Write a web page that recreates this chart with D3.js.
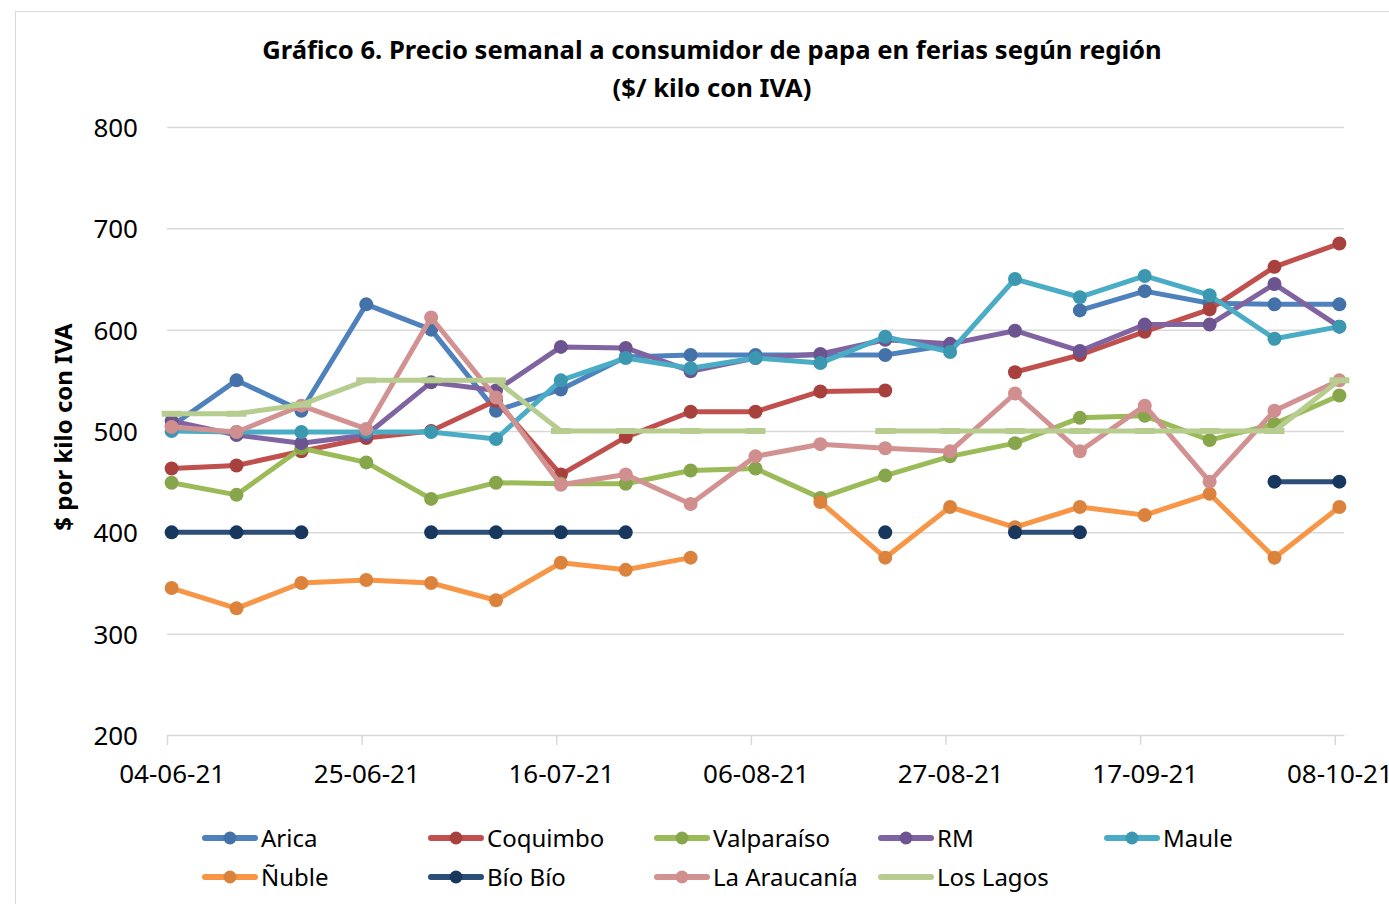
<!DOCTYPE html>
<html>
<head>
<meta charset="utf-8">
<script src="https://cdn.jsdelivr.net/npm/d3@7"></script>
<style>
  body { margin: 0; background: #fff; }
  svg { font-family: "Noto Sans", sans-serif; display: block; }
  .title { font-weight: bold; font-size: 25.6px; fill: #000; }
  .axis-label { font-weight: bold; font-size: 24px; fill: #000; }
  .tick text { font-family: "Noto Sans", sans-serif; font-size: 26px; fill: #000; }
  .legend text { font-size: 24px; fill: #000; }
</style>
</head>
<body>
<svg width="1389" height="904"></svg>
<script>
// weekly dates (Fridays)
const dates = ['2021-06-04', '2021-06-11', '2021-06-18', '2021-06-25', '2021-07-02', '2021-07-09',
  '2021-07-16', '2021-07-23', '2021-07-30', '2021-08-06', '2021-08-13', '2021-08-20', '2021-08-27',
  '2021-09-03', '2021-09-10', '2021-09-17', '2021-09-24', '2021-10-01', '2021-10-08'];

const tickDates = ['2021-06-04', '2021-06-25', '2021-07-16', '2021-08-06', '2021-08-27', '2021-09-17', '2021-10-08'];
const yTicks = [200, 300, 400, 500, 600, 700, 800];

const regions = ['Arica', 'Coquimbo', 'Valparaíso', 'RM', 'Maule', 'Ñuble', 'Bío Bío', 'La Araucanía', 'Los Lagos'];

const arica = [505, 550, 520, 625, 600, 520, 541, 573, 575, 575, 575, 575, 585, null, 619, 638, 626, 625, 625];
const coquimbo = [463, 466, 480, 493, 500, 530, 457, 494, 519, 519, 539, 540, null, 558, 575, 598, 620, 662, 685];
const valparaiso = [449, 437, 483, 469, 433, 449, 448, 448, 461, 463, 434, 456, 475, 488, 513, 515, 491, 507, 535];
const rm = [510, 496, 488, 496, 548, 540, 583, 582, 559, 572, 576, 590, 586, 599, 579, 605, 605, 645, 603];
const maule = [500, 499, 499, 499, 499, 492, 550, 572, 562, 572, 567, 593, 578, 650, 632, 653, 634, 591, 603];
const nuble = [345, 325, 350, 353, 350, 333, 370, 363, 375, null, 430, 375, 425, 405, 425, 417, 438, 375, 425];
const bioBio = [400, 400, 400, null, 400, 400, 400, 400, null, null, null, 400, null, 400, 400, null, null, 450, 450];
const araucania = [504, 499, 525, 502, 612, 533, 447, 457, 428, 475, 487, 483, 480, 537, 480, 525, 450, 520, 550];
const losLagos = [517, 517, 526, 550, 550, 550, 500, 500, 500, 500, null, 500, 500, 500, 500, 500, 500, 500, 550];

const seriesValues = [arica, coquimbo, valparaiso, rm, maule, nuble, bioBio, araucania, losLagos];

const lineColors = ['#4f81bd', '#c0504d', '#9bbb59', '#8064a2', '#4bacc6', '#f79646', '#2c4d75', '#d39292', '#b7cd8f'];
const markerColors = ['#4471a8', '#a8413e', '#87a54a', '#6c5490', '#3c97b1', '#db833d', '#17375e', '#d08e8e', null];

const svg = d3.select('svg');
const width = +svg.attr('width');
const height = +svg.attr('height');

const parse = d3.utcParse('%Y-%m-%d');
const fmt = d3.utcFormat('%d-%m-%y');
const halfDay = 12 * 3600 * 1000;

const render = () => {
  const margin = { top: 127, right: 45, bottom: 169, left: 167 };
  const innerWidth = width - margin.left - margin.right;
  const innerHeight = height - margin.top - margin.bottom;

  // outer chart border
  svg.append('rect')
    .attr('x', 15.5).attr('y', 11.5)
    .attr('width', width + 20).attr('height', height + 20)
    .attr('fill', '#fff')
    .attr('stroke', '#d9d9d9');

  // date axis, each day is a slot, points sit in the middle of their day
  const xScale = d3.scaleUtc()
    .domain([parse('2021-06-04'), d3.utcDay.offset(parse('2021-10-08'), 1)])
    .range([0, innerWidth]);

  const yScale = d3.scaleLinear()
    .domain([200, 800])
    .range([innerHeight, 0]);

  const g = svg.append('g')
    .attr('transform', `translate(${margin.left},${margin.top})`);

  const yAxis = d3.axisLeft(yScale)
    .tickValues(yTicks)
    .tickSize(-innerWidth)
    .tickPadding(29);

  const yAxisG = g.append('g').call(yAxis);
  yAxisG.select('.domain').remove();
  yAxisG.selectAll('.tick line')
    .attr('stroke', '#d9d9d9')
    .attr('stroke-width', 1.5);
  yAxisG.selectAll('.tick text').attr('dy', '0.37em');
  yAxisG.select('.tick:first-of-type line').remove();

  const xAxis = d3.axisBottom(xScale)
    .tickValues(tickDates.map(parse))
    .tickSize(10)
    .tickSizeOuter(0)
    .tickFormat(fmt);

  const xAxisG = g.append('g').call(xAxis)
    .attr('transform', `translate(0,${innerHeight})`);
  xAxisG.select('.domain').attr('stroke', '#d9d9d9').attr('stroke-width', 1.5);
  xAxisG.selectAll('.tick line').attr('stroke', '#d9d9d9').attr('stroke-width', 1.5);
  xAxisG.selectAll('.tick text')
    .attr('x', xScale(parse('2021-06-04').getTime() + halfDay) - xScale(parse('2021-06-04')))
    .attr('y', 48)
    .attr('dy', 0);

  // y axis label
  svg.append('text')
    .attr('class', 'axis-label')
    .attr('transform', `translate(72,427) rotate(-90)`)
    .attr('text-anchor', 'middle')
    .text('$ por kilo con IVA');

  // title
  svg.append('text')
    .attr('class', 'title')
    .attr('x', 712).attr('y', 59)
    .attr('text-anchor', 'middle')
    .text('Gráfico 6. Precio semanal a consumidor de papa en ferias según región');
  svg.append('text')
    .attr('class', 'title')
    .attr('x', 712).attr('y', 97)
    .attr('text-anchor', 'middle')
    .text('($/ kilo con IVA)');

  const xValue = (d, i) => xScale(parse(dates[i]).getTime() + halfDay);

  const lineGenerator = d3.line()
    .defined(d => d != null)
    .x((d, i) => xValue(d, i))
    .y(d => yScale(d));

  seriesValues.forEach((values, s) => {
    const sg = g.append('g');
    sg.append('path')
      .attr('d', lineGenerator(values))
      .attr('fill', 'none')
      .attr('stroke', lineColors[s])
      .attr('stroke-width', 5)
      .attr('stroke-linejoin', 'round');

    const pts = values.map((v, i) => ({ v, i })).filter(p => p.v != null);
    if (markerColors[s]) {
      sg.selectAll('circle').data(pts).enter().append('circle')
        .attr('cx', p => xValue(p.v, p.i))
        .attr('cy', p => yScale(p.v))
        .attr('r', 7)
        .attr('fill', markerColors[s]);
    } else {
      // dash markers
      sg.selectAll('rect').data(pts).enter().append('rect')
        .attr('x', p => xValue(p.v, p.i) - 10)
        .attr('y', p => yScale(p.v) - 3)
        .attr('width', 20)
        .attr('height', 6)
        .attr('fill', lineColors[s]);
    }
  });

  // legend
  const legendX = [203, 429, 655, 879, 1105];
  const legendY = [838, 877];
  const legend = svg.append('g').attr('class', 'legend');
  regions.forEach((name, s) => {
    const lx = legendX[s % 5];
    const ly = legendY[Math.floor(s / 5)];
    const item = legend.append('g').attr('transform', `translate(${lx},${ly})`);
    item.append('line')
      .attr('x1', 2).attr('x2', 52)
      .attr('stroke', lineColors[s])
      .attr('stroke-width', 6)
      .attr('stroke-linecap', 'round');
    if (markerColors[s]) {
      item.append('circle')
        .attr('cx', 27).attr('r', 6.5)
        .attr('fill', markerColors[s]);
    }
    item.append('text')
      .attr('x', 58)
      .attr('dy', '0.36em')
      .text(name);
  });
};

render();
</script>
</body>
</html>
